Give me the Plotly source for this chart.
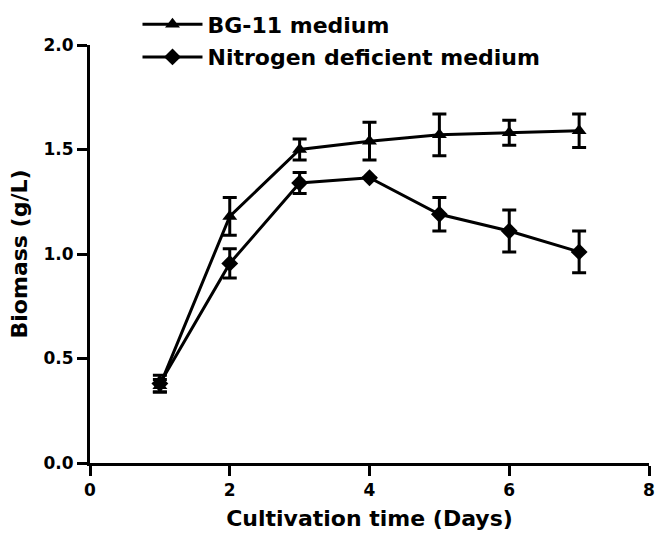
import plotly.graph_objects as go

days = [1, 2, 3, 4, 5, 6, 7]
bg11 = [0.37, 1.18, 1.50, 1.54, 1.57, 1.58, 1.59]
bg11_err = [0.03, 0.09, 0.05, 0.09, 0.10, 0.06, 0.08]
nitro = [0.38, 0.955, 1.34, 1.365, 1.19, 1.11, 1.01]
nitro_err = [0.04, 0.07, 0.05, 0.0, 0.08, 0.10, 0.10]

FONT = "DejaVu Sans, sans-serif"

fig = go.Figure()
fig.add_trace(go.Scatter(
    x=days, y=bg11, name="BG-11 medium", mode="lines+markers",
    line=dict(color="black", width=3),
    marker=dict(symbol="triangle-up", size=13, color="black"),
    error_y=dict(type="data", array=bg11_err, color="black", thickness=3, width=7),
    legendgroup="a",
))
fig.add_trace(go.Scatter(
    x=days, y=nitro, name="Nitrogen deficient medium", mode="lines+markers",
    line=dict(color="black", width=3),
    marker=dict(symbol="diamond", size=13, color="black"),
    error_y=dict(type="data", array=nitro_err, color="black", thickness=3, width=7),
    legendgroup="b",
))

fig.update_layout(
    width=658, height=539,
    margin=dict(l=90, r=3, t=40, b=76),
    paper_bgcolor="white", plot_bgcolor="white",
    font=dict(family=FONT, color="black"),
    showlegend=True,
    legend=dict(
        x=(138 - 90) / 565, y=1.0 + 42 / 423, xanchor="left", yanchor="top",
        font=dict(size=22, family=FONT, color="black", weight="bold"),
        traceorder="grouped", tracegroupgap=1, itemwidth=60,
        bgcolor="rgba(0,0,0,0)",
    ),
    xaxis=dict(
        range=[0, 8], tickvals=[0, 2, 4, 6, 8],
        showgrid=False, zeroline=False,
        showline=True, linecolor="black", linewidth=3,
        ticks="outside", ticklen=10, tickwidth=3, tickcolor="black",
        ticklabeloverflow="allow",
        tickfont=dict(size=17, family=FONT, weight="bold"),
        title=dict(text="Cultivation time (Days)", font=dict(size=22, family=FONT, weight="bold"), standoff=12),
    ),
    yaxis=dict(
        range=[0, 2.0], tickvals=[0, 0.5, 1.0, 1.5, 2.0], tickformat=".1f",
        showgrid=False, zeroline=False,
        showline=True, linecolor="black", linewidth=3,
        ticks="outside", ticklen=10, tickwidth=3, tickcolor="black",
        tickfont=dict(size=17, family=FONT, weight="bold"),
        title=dict(text="Biomass (g/L)", font=dict(size=22, family=FONT, weight="bold"), standoff=10),
    ),
)

fig.write_html("out.html")
